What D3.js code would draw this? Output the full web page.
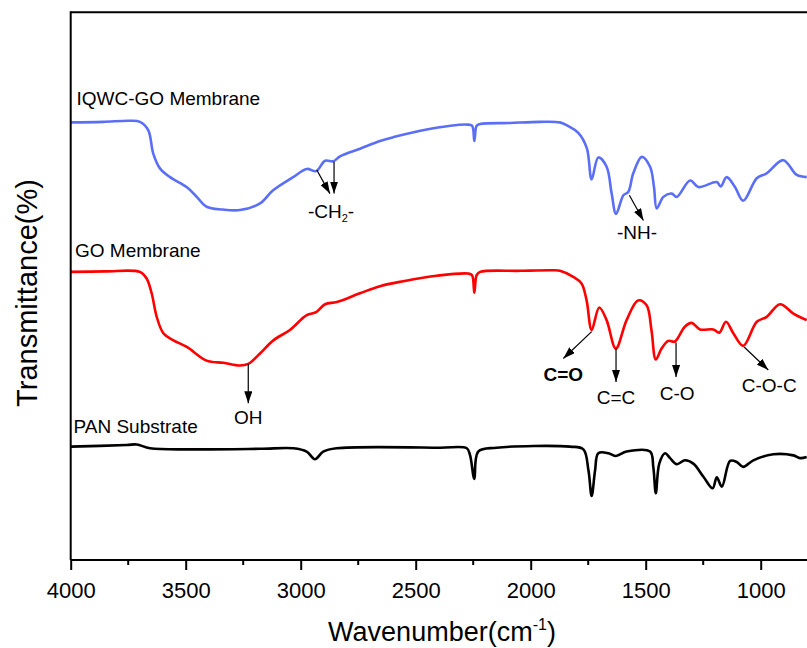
<!DOCTYPE html>
<html>
<head>
<meta charset="utf-8">
<script src="https://cdn.jsdelivr.net/npm/d3@7"></script>
<style>
  html, body { margin: 0; padding: 0; background: #fff; }
  svg text { font-family: "Liberation Sans", Arial, sans-serif; fill: #000; }
</style>
</head>
<body>
<svg id="chart" width="807" height="648"></svg>
<script>
// ---- data (wavenumber cm^-1, transmittance in arbitrary % units) ----
const xTicks = [4000, 3500, 3000, 2500, 2000, 1500, 1000];
const xMinorTicks = [3750, 3250, 2750, 2250, 1750, 1250];
const seriesNames = ["IQWC-GO Membrane", "GO Membrane", "PAN Substrate"];

const iqwcGO = [
  [4000,79.9],[3860,80.0],[3742,80.2],[3699,80.0],[3663,78.5],[3641,74.2],[3612,71.5],[3568,69.9],
  [3496,68.1],[3452,66.3],[3409,64.5],[3340,64.0],[3264,63.9],[3177,65.1],[3120,67.5],[3033,69.9],
  [2974,71.4],[2933,71.0],[2894,72.9],[2858,72.8],[2829,73.7],[2742,75.1],[2655,76.5],[2597,77.2],
  [2452,78.6],[2278,79.5],[2255,79.3],[2245,76.5],[2235,79.3],[2220,79.6],[2090,79.8],[1960,80.0],
  [1873,79.9],[1836,79.2],[1793,78.0],[1756,75.2],[1735,69.5],[1706,73.5],[1670,71.8],[1648,66.9],
  [1629,63.2],[1597,66.6],[1576,67.2],[1554,70.6],[1517,73.6],[1481,71.8],[1464,68.1],[1452,64.2],
  [1423,66.3],[1387,66.9],[1365,66.3],[1307,69.3],[1271,68.1],[1191,69.0],[1174,68.2],[1148,69.9],
  [1112,68.1],[1076,65.6],[1017,69.7],[974,70.6],[902,73.0],[843,70.3],[800,69.9]
];
const goMembrane = [
  [4000,52.6],[3850,52.7],[3699,52.6],[3670,51.4],[3648,48.7],[3626,44.4],[3597,41.4],[3553,40.1],
  [3495,38.9],[3409,36.4],[3336,36.0],[3264,35.5],[3228,35.8],[3177,37.7],[3119,40.1],[3047,42.0],
  [2974,44.7],[2931,45.3],[2894,46.7],[2843,47.1],[2742,48.7],[2655,50.0],[2554,50.9],[2409,51.9],
  [2272,52.3],[2255,52.0],[2245,48.8],[2235,52.0],[2220,52.6],[2046,52.8],[1901,52.9],[1873,52.8],
  [1815,51.7],[1779,50.5],[1757,47.4],[1735,42.0],[1702,46.1],[1670,43.8],[1630,38.6],[1583,43.8],
  [1533,47.4],[1496,46.5],[1475,42.0],[1456,36.6],[1431,38.6],[1402,40.0],[1373,39.9],[1330,42.6],
  [1300,43.3],[1264,42.1],[1206,42.1],[1180,41.5],[1151,43.5],[1119,41.4],[1076,39.1],[1017,43.5],
  [974,44.4],[916,46.7],[858,45.0],[800,43.8]
];
const panSubstrate = [
  [4000,20.7],[3757,21.0],[3713,21.1],[3655,20.4],[3467,20.2],[3177,20.3],[3032,20.4],[2974,19.8],
  [2938,18.4],[2902,19.8],[2844,20.4],[2394,20.5],[2278,20.4],[2264,19.2],[2245,14.8],[2228,19.8],
  [2148,20.5],[1829,20.7],[1771,20.2],[1749,16.4],[1735,11.7],[1720,16.4],[1706,19.5],[1662,19.5],
  [1629,19.0],[1583,19.8],[1481,19.8],[1467,17.0],[1456,12.2],[1441,17.6],[1416,19.5],[1394,18.6],
  [1365,17.5],[1329,18.2],[1293,17.6],[1249,15.2],[1209,13.1],[1191,15.1],[1169,13.4],[1133,18.1],
  [1104,17.9],[1076,17.0],[1032,18.2],[945,19.3],[858,19.1],[829,18.6],[800,18.8]
];

// annotations: label, arrow start [wn, v], arrow end [wn, v], label anchor [wn, v]
const annotationLabels = ["-CH2-", "-CH2-", "-NH-", "OH", "C=O", "C=C", "C-O", "C-O-C"];
const arrowFrom = [[2930,71.2],[2855,72.7],[1571,66.6],[3228,35.8],[1735,41.7],[1629,38.6],[1368,39.7],[1072,38.9]];
const arrowTo   = [[2873,66.9],[2855,66.9],[1510,62.0],[3228,28.6],[1858,36.8],[1629,32.5],[1368,33.4],[967,34.7]];
const labelAt   = [[2868,62.4],null,[1538,58.7],[3228,24.8],[1858,32.7],[1629,28.5],[1363,29.2],[963,30.7]];

// ---- drawing ----
(function () {
const W = 807, H = 648;
const svg = d3.select("#chart");
const pL = 70.7, pR = 806.7, pT = 12.3, pB = 560;
const x = d3.scaleLinear().domain([4000, 800]).range([pL, pR]);
const y = d3.scaleLinear().domain([0, 100]).range([pB, pT]);

const defs = svg.append("defs");
defs.append("clipPath").attr("id", "plotclip")
  .append("rect").attr("x", pL).attr("y", pT).attr("width", W - pL).attr("height", pB - pT);

const marker = defs.append("marker")
  .attr("id", "arrow").attr("viewBox", "0 0 12 8").attr("refX", 12).attr("refY", 4)
  .attr("markerWidth", 12).attr("markerHeight", 8).attr("markerUnits", "userSpaceOnUse")
  .attr("orient", "auto");
marker.append("path").attr("d", "M0,0 L12,4 L0,8 Z").attr("fill", "#000");

// frame: top line
svg.append("line").attr("x1", pL).attr("x2", W + 2).attr("y1", pT).attr("y2", pT)
  .attr("stroke", "#000").attr("stroke-width", 2);

const line = d3.line().x(d => x(d[0])).y(d => y(d[1])).curve(d3.curveCatmullRom.alpha(0.5));
const data = [iqwcGO, goMembrane, panSubstrate];
const colors = ["#5a6ff5", "#ff0000", "#000000"];
const g = svg.append("g").attr("clip-path", "url(#plotclip)");
data.forEach((s, i) => {
  g.append("path").datum(s).attr("d", line).attr("fill", "none")
    .attr("stroke", colors[i]).attr("stroke-width", 2.6).attr("stroke-linejoin", "round");
});

// series labels
const labelPos = [[76.5, 105], [75, 257], [73.5, 432.7]];
seriesNames.forEach((n, i) => {
  svg.append("text").attr("x", labelPos[i][0]).attr("y", labelPos[i][1])
    .attr("font-size", 19).text(n);
});

// annotations
annotationLabels.forEach((lab, i) => {
  svg.append("line")
    .attr("x1", x(arrowFrom[i][0])).attr("y1", y(arrowFrom[i][1]))
    .attr("x2", x(arrowTo[i][0])).attr("y2", y(arrowTo[i][1]))
    .attr("stroke", "#000").attr("stroke-width", 1.2).attr("marker-end", "url(#arrow)");
  if (!labelAt[i]) return;
  const t = svg.append("text").attr("x", x(labelAt[i][0])).attr("y", y(labelAt[i][1]))
    .attr("text-anchor", "middle").attr("font-size", 19);
  if (lab === "C=O") t.attr("font-weight", "bold");
  if (lab === "-CH2-") {
    t.append("tspan").text("-CH");
    t.append("tspan").attr("font-size", 11).attr("dy", 4).text("2");
    t.append("tspan").attr("dy", -4).text("-");
  } else {
    t.text(lab);
  }
});

// axes
const xAxis = d3.axisBottom(x).tickValues(xTicks).tickSize(10).tickPadding(12).tickFormat(d3.format("d"));
const ax = svg.append("g").attr("transform", `translate(0,${pB})`).call(xAxis);
ax.select(".domain").attr("d", `M${pL},0H${W + 2}`).attr("stroke-width", 2);
ax.selectAll(".tick line").attr("stroke-width", 2);
ax.selectAll(".tick text").attr("font-size", 22).attr("font-family", "Liberation Sans, Arial, sans-serif");
ax.selectAll(".minor").data(xMinorTicks).enter().append("line").attr("class", "minor")
  .attr("x1", d => x(d)).attr("x2", d => x(d)).attr("y1", 0).attr("y2", 5)
  .attr("stroke", "#000").attr("stroke-width", 2);

svg.append("line").attr("x1", pL).attr("x2", pL).attr("y1", pT - 1).attr("y2", pB)
  .attr("stroke", "#000").attr("stroke-width", 2);

// axis titles
const xt = svg.append("text").attr("x", 442).attr("y", 641).attr("text-anchor", "middle").attr("font-size", 27);
xt.append("tspan").text("Wavenumber(cm");
xt.append("tspan").attr("font-size", 16).attr("dy", -11).text("-1");
xt.append("tspan").attr("dy", 11).text(")");

svg.append("text").attr("transform", "translate(37,293) rotate(-90)")
  .attr("text-anchor", "middle").attr("font-size", 29).text("Transmittance(%)");
})();
</script>
</body>
</html>
